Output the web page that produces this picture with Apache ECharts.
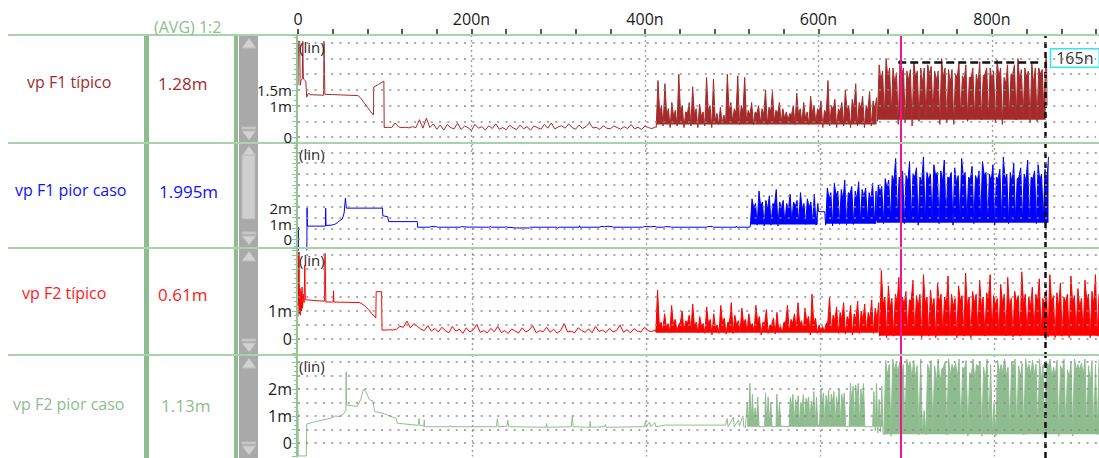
<!DOCTYPE html>
<html><head><meta charset="utf-8">
<script src="https://cdn.jsdelivr.net/npm/echarts@6/dist/echarts.min.js"></script>
<style>html,body{margin:0;padding:0;background:#fff}#c{width:1099px;height:458px}</style>
</head><body><div id="c"></div>
<script>
// ---------- labels ----------
const xTickLabels = ['0', '200n', '400n', '600n', '800n'];
const signalNames = ['vp F1 típico', 'vp F1 pior caso', 'vp F2 típico', 'vp F2 pior caso'];
const avgValues = ['1.28m', '1.995m', '0.61m', '1.13m'];
const headerText = '(AVG) 1:2';
// y tick labels per panel: [panel, values]
const yLabelGroups = [[0, [0, 1.5]], [0, [1]], [1, [2]], [1, [1]], [1, [0]], [2, [0, 1]], [3, [0, 1, 2]]];
const cursorA = 692, cursorB = 858, cursorLevel = 2.39, deltaLabel = '165n';

// ---------- vp F1 típico (t in ns, value in mV) ----------
const f1tStart = [[0,1.65],[0.5,3.05],[2,3.05],[2.5,1.65],[3.5,1.8],[5,1.85],[5.5,3.05],[6.2,1.85],[9,1.78],[10,1.27],[12,1.4],[14,1.35],[29.5,1.33],[30,3.05],[30.6,3.05],[31,1.36],[69,1.32],[72,1.25],[76,1.1],[80,0.95],[84,0.8],[87,0.7],[87.3,1.59],[93,1.68],[99,1.78],[99.4,0.3]];
const f1tLowRange = [100, 412];
const f1tLowVals = [0.30,0.31,0.30,0.45,0.32,0.30,0.31,0.29,0.33,0.30,0.55,0.28,0.60,0.30,0.42,0.25,0.38,0.22,0.40,0.30,0.26,0.44,0.24,0.35,0.30,0.21,0.40,0.28,0.33,0.22,0.36,0.27,0.42,0.25,0.30,0.23,0.37,0.29,0.24,0.38,0.26,0.33,0.22,0.35,0.30,0.25,0.40,0.28,0.45,0.26,0.32,0.36,0.28,0.42,0.30,0.25,0.38,0.27,0.33,0.45,0.29,0.31,0.24,0.36,0.28,0.26,0.35,0.30,0.25,0.33,0.27,0.40,0.26,0.31,0.24,0.35,0.30,0.27,0.32];
const f1tNoiseARange = [413, 667];
const f1tNoiseAVals = [0.3,1.8,0.75,1.0,0.35,1.7,0.7,0.9,0.3,1.1,0.65,0.85,0.35,2.0,0.8,1.0,0.3,0.8,0.75,1.1,0.35,1.6,0.7,0.9,0.3,1.05,0.65,0.8,0.35,1.9,0.8,1.0,0.3,1.85,0.5,0.75,0.4,0.95,0.45,0.7,0.45,2.0,0.8,1.1,0.5,0.9,0.75,1.95,0.4,1.0,0.8,1.9,0.5,0.85,0.7,1.1,0.4,0.8,0.75,1.0,0.45,0.9,0.7,1.5,0.4,0.95,0.8,1.45,0.5,0.85,0.75,1.1,0.45,0.9,0.6,0.8,0.55,0.75,0.7,1.0,0.4,1.4,0.7,0.9,0.45,1.1,0.6,0.8,0.4,1.3,0.75,1.0,0.45,0.9,0.8,1.15,0.3,0.85,0.75,1.8,0.35,1.0,0.85,1.2,0.3,0.9,0.8,1.1,0.35,1.5,0.85,1.0,0.3,1.2,0.9,1.7,0.35,1.1,0.9,1.3,0.3,1.0,0.85,1.45,0.35,1.15,0.9,1.25];
const f1tNoiseBRange = [668, 862];
const f1tNoiseBVals = [0.5,2.3,1.8,2.1,0.6,2.5,1.9,2.2,0.7,2.2,1.7,2.05,0.4,2.45,2.0,2.2,0.45,2.1,1.8,2.15,0.35,2.4,1.9,2.1,0.5,2.2,1.7,2.2,0.6,2.3,2.0,2.25,0.7,2.1,1.8,2.1,0.4,2.5,1.9,2.2,0.45,2.15,1.7,2.15,0.4,2.0,1.9,2.35,0.65,1.95,1.8,2.3,0.5,1.9,1.9,2.2,0.6,2.0,1.7,2.4,0.55,1.95,2.0,2.2,0.6,2.2,1.8,2.1,0.45,2.45,1.9,2.2,0.4,1.9,1.7,2.3,0.6,2.0,2.0,2.3,0.55,2.5,1.8,2.15,0.6,2.2,1.9,2.1,0.45,2.35,1.7,2.2,0.5,2.2,2.0,2.15,0.7,2.5];
const f1tEnd = [[863,2.55],[863.5,1.0]];

// ---------- vp F1 pior caso ----------
const f1wStart = [[0,-0.2],[0.3,0.76],[0.6,-1.5],[10,-1.5],[10.2,-0.2],[10.4,2.0],[10.8,0.84],[31.5,0.84],[31.8,2.0],[32.2,0.88],[38,0.9],[42,0.95],[45,1.05],[48,1.2],[51,1.3],[53,1.7],[54.5,2.65],[55.5,2.0],[97,2.0],[97.5,1.5],[103,1.45],[104,1.13],[137,1.13],[137.5,0.77]];
const f1wFlat = [[151,0.77],[153,0.82],[159,0.8],[160,0.77],[186,0.77],[188,0.81],[193,0.78],[220,0.77],[221,0.83],[222,0.77],[238,0.77],[239,0.82],[240,0.77],[251,0.72],[266,0.72],[267,0.77],[297,0.77],[298,0.7],[300,0.77],[323,0.77],[323.5,0.86],[324,0.77],[346,0.77],[348,0.82],[352,0.8],[356,0.83],[361,0.8],[362,0.77],[396,0.77],[398,0.82],[405,0.8],[411,0.82],[412,0.77],[420,0.77],[422,0.81],[428,0.79],[429,0.77],[469,0.77],[471,0.81],[476,0.82],[477,0.77],[503,0.77],[503.5,0.85],[504,0.77],[519,0.77]];
const f1wNoiseCRange = [519.5, 597];
const f1wNoiseCVals = [0.85,2.6,2.0,2.3,0.9,3.1,2.1,2.4,0.85,2.5,1.9,2.8,0.9,2.3,2.2,3.2,0.85,2.4,2.0,2.5,1.0,2.3,1.9,2.9,1.1,2.4,2.1,2.5,1.0,3.0,1.9,2.3,0.95,2.6,2.0,2.4,1.05,2.9,0.9,2.3];
const f1wGap = [[598,1.77],[605,1.77]];
const f1wNoiseDRange = [606, 664];
const f1wNoiseDVals = [0.9,3.3,2.6,3.0,0.85,3.6,2.8,3.1,0.95,3.2,2.5,3.8,0.9,3.0,2.9,3.4,0.95,3.1,2.6,3.7,1.05,3.2,2.7,3.3,1.1,3.0,2.5,3.6,1.0,3.1];
const f1wNoiseERange = [664.5, 862];
const f1wNoiseEVals = [1.2,3.5,3.0,3.4,1.0,3.9,3.3,3.8,1.2,4.1,3.7,5.2,1.4,4.0,3.9,4.4,1.0,4.1,3.7,5.0,1.2,4.2,4.0,4.6,0.9,4.0,3.6,5.3,1.1,4.3,3.8,4.2,1.2,4.8,4.1,4.3,1.0,4.4,3.7,5.1,1.2,4.0,3.9,4.3,0.9,4.6,3.6,4.1,1.1,5.2,4.0,4.3,1.2,4.0,3.8,4.7,1.0,4.1,3.7,4.4,1.2,5.0,4.1,4.3,1.1,4.2,3.7,4.8,0.9,4.0,3.9,4.5,1.2,5.3,3.8,4.2,1.0,4.3,3.6,4.9,1.2,3.9,4.0,4.6,1.1,4.2,3.7,5.1,1.2,4.0,3.9,4.4,1.0,4.8,3.8,4.2,1.2,4.5,3.6,5.3];

// ---------- vp F2 típico ----------
const f2tStart = [[0,0.8],[0.4,3.1],[0.8,1.2],[1.2,3.1],[1.6,0.9],[2.2,1.8],[2.8,0.85],[3.4,1.7],[4,1.0],[4.6,1.85],[5.2,1.1],[6,1.6],[7,1.3],[7.8,2.64],[8.4,1.4],[30.5,1.35],[31,3.06],[31.5,3.06],[32,1.32],[40.5,1.32],[40.8,1.72],[41.2,1.32],[71,1.3],[76,1.2],[81,1.05],[85,0.9],[89.4,0.75],[89.8,1.69],[96,1.69],[96.5,0.32]];
const f2tLowRange = [97, 410];
const f2tLowVals = [0.32,0.32,0.33,0.32,0.35,0.45,0.42,0.64,0.40,0.55,0.45,0.35,0.30,0.48,0.28,0.38,0.25,0.42,0.30,0.22,0.45,0.28,0.35,0.20,0.40,0.25,0.33,0.52,0.24,0.30,0.22,0.38,0.26,0.45,0.23,0.30,0.20,0.36,0.28,0.22,0.40,0.25,0.32,0.48,0.22,0.30,0.26,0.42,0.24,0.35,0.21,0.30,0.55,0.25,0.28,0.22,0.40,0.30,0.24,0.36,0.22,0.45,0.27,0.32,0.23,0.38,0.26,0.30,0.50,0.24,0.33,0.22,0.37,0.28,0.25,0.42,0.30,0.26,0.32];
const f2tNoiseFRange = [411, 667];
const f2tNoiseFVals = [0.25,1.75,0.45,0.6,0.3,0.9,0.4,0.55,0.25,1.2,0.5,0.7,0.3,0.5,0.6,1.0,0.25,0.65,0.55,0.85,0.3,1.25,0.45,0.6,0.22,0.8,0.45,0.55,0.2,1.15,0.5,0.7,0.15,0.9,0.4,0.5,0.2,1.2,0.55,0.75,0.18,0.6,0.6,1.3,0.2,0.85,0.5,0.65,0.25,1.1,0.55,0.7,0.3,0.9,0.45,0.55,0.25,1.2,0.6,0.8,0.15,0.6,0.55,1.05,0.2,0.5,0.5,0.75,0.18,0.95,0.35,0.45,0.22,0.6,0.6,1.2,0.25,0.7,0.55,0.9,0.3,1.3,0.5,0.65,0.25,1.1,0.6,0.8,0.15,1.6,0.55,0.75,0.2,0.5,0.3,0.45,0.25,0.55,0.6,1.5,0.25,0.85,0.65,1.15,0.2,0.95,0.7,1.3,0.18,0.8,0.65,1.2,0.15,0.9,0.7,1.35,0.2,1.0,0.65,1.25,0.25,0.95,0.7,1.4,0.2,1.1,0.7,1.3];
const f2tNoiseGRange = [668, 920];
const f2tNoiseGVals = [0.1,2.45,1.2,1.5,0.05,1.9,1.1,1.45,0.1,1.6,1.3,2.2,0.05,1.5,1.2,1.7,0.2,1.4,1.35,2.1,0.15,1.55,1.15,1.6,0.05,2.3,1.25,1.5,0.1,1.75,1.1,1.45,0.05,2.0,1.3,1.6,0.2,1.5,1.2,2.25,0.15,1.6,1.15,1.45,0.05,1.9,1.35,1.55,0.1,2.35,1.1,1.5,0.05,1.7,1.25,1.6,0.15,2.1,1.1,1.5,0.1,1.65,1.4,2.3,0.18,1.55,1.2,1.45,0.15,1.95,1.25,1.6,0.12,2.2,1.1,1.45,0.08,1.7,1.3,1.55,0.1,2.4,1.2,1.6,0.15,1.5,1.1,1.85,0.2,1.6,1.35,2.15,0.12,1.45,1.2,1.75,0.08,2.3,1.25,1.55,0.05,1.65,1.1,2.0,0.1,1.5,1.3,1.6,0.05,2.25,1.25,1.55,0.2,1.8,1.1,1.45,0.15,2.1,1.4,1.6,0.05,1.7,1.2,2.3,0.1,1.6];

// ---------- vp F2 pior caso ----------
const f2wStart = [[0,1.2],[0.3,-0.48],[9.5,-0.48],[10,0.7],[20,0.79],[37,0.91],[43,1.0],[48,0.97],[53,1.1],[55,1.2],[55.3,2.63],[55.8,1.4],[68,1.35],[72,1.6],[75,1.98],[78,1.9],[82,1.6],[86,1.55],[88,1.16],[98,1.09],[105,1.0],[113,0.9],[114,0.73],[138,0.65],[139,0.9],[140,0.65],[144.5,0.62],[145,0.85],[145.5,0.6],[174,0.6],[175,0.65],[176,0.6],[228,0.6],[229,0.9],[230,0.6],[240,0.62],[241,0.85],[242,0.6],[285,0.58],[285.5,0.72],[286,0.58],[314,0.6],[315,0.97],[316,0.6],[335,0.58],[335.5,0.8],[336,0.58],[352,0.6],[353,0.68],[354,0.58],[398,0.6],[399,0.8],[400,0.6],[404,0.78],[405,0.6],[410,0.75],[411,0.6],[422,0.66],[491,0.66],[493,0.9],[494,0.6],[500,0.95],[501,0.6],[506,0.85],[507,0.62],[511,1.0],[512,0.6],[514,0.58]];
const f2wBursts = [[516,1.5],[517.5,0.6],[519,2.2],[520.5,0.7],[522,1.8],[523.5,0.6],[525,1.3],[526.5,0.62],[528,1.7],[529.5,0.6],[536,0.6],[537,1.85],[538.5,0.6],[540,1.7],[541.5,0.65],[543,1.5],[544.5,0.6],[549,0.6],[550,1.8],[551.5,0.6],[553,1.5],[554.5,0.62],[564,0.6],[565.5,1.7],[567,1.3],[568.5,1.8],[570,0.65],[571.5,1.6],[573,1.2],[574.5,1.75],[576,0.6],[577.5,1.5],[579,1.3],[580.5,1.8],[582,0.6],[583.5,1.65],[585,1.4],[586.5,1.7],[588,0.62],[589.5,1.55],[591,1.2],[592.5,1.9],[594,0.6],[595.5,1.7],[597,0.7],[599,0.62],[600.5,2.0],[602,1.4],[603.5,1.85],[605,0.6],[606.5,1.75],[608,1.3],[609.5,1.95],[611,0.6],[612.5,1.8],[614,1.5],[615.5,1.9],[617,0.62],[618.5,1.7],[620,1.3],[621.5,2.0],[623,0.6],[624.5,1.8],[626,1.4],[627.5,1.85],[629,0.6],[633,0.6],[634.5,2.2],[636,1.5],[637.5,2.1],[639,0.62],[640.5,2.15],[642,1.6],[643.5,2.2],[645,0.65],[646.5,2.0],[648,1.4],[649.5,2.2],[651,0.6],[660,0.6],[661.5,1.9],[663,0.45],[664.5,2.2],[666,0.37],[667.5,1.6],[669,0.4],[670.5,2.1],[672,0.35]];
const f2wNoiseIRange = [673, 920];
const f2wNoiseIVals = [0.3,3.05,2.5,2.9,0.25,3.1,2.7,2.95,2.6,3.0,2.3,2.9,0.35,3.1,2.8,3.0,2.4,3.05,2.4,2.85,0.3,3.1,0.35,1.2,0.3,2.9,2.6,3.05,0.4,2.85,2.2,3.1,2.2,2.7,2.8,3.0,0.3,3.1,2.5,2.9,2.7,2.95,2.4,3.1,0.35,2.8,2.7,3.05,0.25,2.6,2.5,3.1,2.3,2.9,2.8,3.0,0.25,2.8,2.3,3.1,0.4,2.9,0.3,1.5,0.25,3.05,2.6,2.9,2.6,3.1,2.5,2.8,0.4,3.0,2.8,3.1,0.35,2.85,2.4,2.95,0.3,3.1,2.7,2.9,2.5,3.05,2.5,2.9,0.35,3.1,2.3,2.9,0.25,3.0,2.8,3.1,2.4,2.8,2.5,3.05,0.25,2.85,2.6,3.1,0.4,2.7,2.4,3.0,0.25,3.1,2.7,2.9,2.7,2.95,2.5,3.1,0.4,2.85,2.2,3.05,0.35,2.9,0.3,3.1];

// ---------- assemble ----------
function seg(range, vals) {
  const n = vals.length;
  return vals.map((v, i) => [range[0] + (range[1] - range[0]) * i / (n - 1), v]);
}
const sF1tA = seg(f1tNoiseARange, f1tNoiseAVals), sF1tB = seg(f1tNoiseBRange, f1tNoiseBVals);
const sF1wC = seg(f1wNoiseCRange, f1wNoiseCVals), sF1wD = seg(f1wNoiseDRange, f1wNoiseDVals), sF1wE = seg(f1wNoiseERange, f1wNoiseEVals);
const sF2tF = seg(f2tNoiseFRange, f2tNoiseFVals), sF2tG = seg(f2tNoiseGRange, f2tNoiseGVals);
const sF2wI = seg(f2wNoiseIRange, f2wNoiseIVals);
const dataF1t = [].concat(f1tStart, seg(f1tLowRange, f1tLowVals), sF1tA, sF1tB, f1tEnd);
const dataF1w = [].concat(f1wStart, f1wFlat, sF1wC, f1wGap, sF1wD, sF1wE);
const dataF2t = [].concat(f2tStart, seg(f2tLowRange, f2tLowVals), sF2tF, sF2tG);
const dataF2w = [].concat(f2wStart, f2wBursts, sF2wI);

const colors = ['#a52a2a', '#0000ff', '#ff0000', '#8fbc8f'];
const nameColors = ['#a52a2a', '#1010ff', '#ff1a1a', '#8fbc8f'];
const FONT = 'Open Sans';

// panel geometry (pixels)
const PL = 298, PW = 803;
const panels = [
  {top: 35, height: 117.7, min: -0.5, max: 3.25, interval: 0.5},
  {top: 143, height: 107, min: -0.7, max: 6.2, interval: 0.7},
  {top: 248, height: 105, min: -0.5, max: 3.25, interval: 0.5},
  {top: 355, height: 101.5, min: -0.5, max: 3.25, interval: 0.5}
];
const sepY = [35, 143, 248, 355];
// label styling per group (nudges keep tightly packed labels apart)
const groupStyle = [
  {size: 15, pad: [0, 0, 4, 0]}, {size: 15, pad: [8, 0, 0, 0]},
  {size: 15, pad: [0, 0, 4, 0]}, {size: 15, pad: [0, 0, 0, 0]}, {size: 15, pad: [4, 0, 0, 0]},
  {size: 16, pad: [0, 0, 0, 0]}, {size: 16, pad: [0, 0, 0, 0]}
];

const grids = panels.map(p => ({left: PL, width: PW, top: p.top, height: p.height}));
grids.push({left: PL, width: PW, top: 35, height: 423});

const gridGreen = '#93c493';
const xAxes = panels.map((p, i) => ({
  gridIndex: i, type: 'value', min: 0, max: 920, interval: 200,
  axisLine: {show: false, onZero: false}, axisTick: {show: false}, axisLabel: {show: false},
  splitLine: {show: true, showMinLine: false, showMaxLine: false,
    lineStyle: {color: '#a0a0a0', width: 1.4, type: [2, 3]}}
}));
xAxes.push({
  gridIndex: 0, type: 'value', position: 'top', min: 0, max: 920, interval: 40,
  axisLine: {show: false, onZero: false},
  axisTick: {show: true, inside: false, length: 6, lineStyle: {color: '#222', width: 1.5}},
  axisLabel: {show: true, margin: 8, fontSize: 16, color: '#1a1a1a', fontFamily: FONT,
    formatter: v => (v % 200 === 0 ? xTickLabels[v / 200] : '')},
  splitLine: {show: false}
});
xAxes.push({gridIndex: 4, type: 'value', min: 0, max: 920, show: false, axisLine: {onZero: false}});

const yFmt = v => (Math.abs(v) < 1e-9 ? '0' : (+v.toFixed(2)) + 'm');
const yAxes = panels.map((p, i) => ({
  gridIndex: i, type: 'value', min: p.min, max: p.max, interval: p.interval, offset: 1, z: 50,
  axisLine: {show: true, onZero: false, lineStyle: {color: gridGreen, width: 2}},
  axisTick: {show: true, length: 5, lineStyle: {color: gridGreen, width: 1}},
  minorTick: {show: true, splitNumber: 3, length: 3, lineStyle: {color: gridGreen, width: 1}},
  axisLabel: {show: false},
  splitLine: {show: true, showMinLine: false, showMaxLine: false,
    lineStyle: {color: '#8a8a8a', width: 1.5, type: [2, 6.3]}}
}));
yAxes.push({gridIndex: 4, type: 'value', min: 0, max: 1, show: false, axisLine: {onZero: false}});
yLabelGroups.forEach(([g, vals], k) => {
  const p = panels[g], st = groupStyle[k];
  yAxes.push({gridIndex: g, type: 'value', position: 'left', min: p.min, max: p.max, interval: p.interval, offset: 1, z: 51,
    axisLine: {show: false, onZero: false}, axisTick: {show: false}, splitLine: {show: false},
    axisLabel: {show: true, customValues: vals, margin: 5, fontSize: st.size, padding: st.pad,
      color: '#1a1a1a', fontFamily: FONT, formatter: yFmt}});
});

const datas = [dataF1t, dataF1w, dataF2t, dataF2w];
const series = datas.map((d, i) => ({
  type: 'line', xAxisIndex: i, yAxisIndex: i, data: d, showSymbol: false, symbol: 'none',
  lineStyle: {color: colors[i], width: 1}, itemStyle: {color: colors[i]}, animation: false, clip: true, z: 3
}));
// dense noise bands: filled between the trace and its floor level
const bands = [
  [0, sF1tA, 0.4], [0, sF1tB, 0.55],
  [1, sF1wC, 0.95], [1, sF1wD, 1.0], [1, sF1wE, 1.05],
  [2, sF2tF, 0.22], [2, sF2tG, 0.12],
  [3, f2wBursts, 0.6], [3, sF2wI, 0.32]
];
bands.forEach(([g, d, floor]) => series.push({
  type: 'line', xAxisIndex: g, yAxisIndex: g, data: d, showSymbol: false, symbol: 'none',
  lineStyle: {width: 0, color: colors[g]}, itemStyle: {color: colors[g]},
  areaStyle: {origin: floor, color: colors[g], opacity: 1}, animation: false, clip: true, z: 2
}));
// horizontal cursor measurement in the first panel
series[0].markLine = {
  silent: true, symbol: ['none', 'none'], animation: false,
  lineStyle: {color: '#111', width: 2.5, type: [8, 4]},
  label: {show: true, position: 'end', formatter: deltaLabel, distance: 9, offset: [0, -4],
    color: '#333', fontSize: 16, fontFamily: FONT, backgroundColor: '#fff',
    borderColor: '#33e6ee', borderWidth: 1.5, padding: [1, 5, 0, 5]},
  data: [[{coord: [cursorA, cursorLevel]}, {coord: [cursorB, cursorLevel]}]]
};
// full-height cursors
series.push({
  type: 'line', xAxisIndex: 5, yAxisIndex: 4, data: [], z: 100, animation: false,
  markLine: {
    silent: true, symbol: ['none', 'none'], animation: false, label: {show: false},
    data: [
      {xAxis: cursorA, lineStyle: {color: '#f0168c', width: 2, type: 'solid'}},
      {xAxis: cursorB, lineStyle: {color: '#111', width: 2.5, type: [6, 4]}}
    ]
  }
});

// ---------- chrome (left columns, separators, scrollbar) ----------
const graphic = [];
graphic.push({type: 'rect', shape: {x: 239, y: 35, width: 19, height: 423}, style: {fill: '#a9a9a9'}, z: 40});
graphic.push({type: 'rect', shape: {x: 144, y: 35, width: 5, height: 423}, style: {fill: '#8fbc8f'}, z: 41});
graphic.push({type: 'rect', shape: {x: 234, y: 35, width: 4, height: 423}, style: {fill: '#8fbc8f'}, z: 41});
sepY.forEach(y => graphic.push({type: 'line', shape: {x1: 8, y1: y, x2: 1099, y2: y},
  style: {stroke: '#a9d3a9', lineWidth: 2}, z: 42}));
const panelBounds = [[35, 143], [143, 248], [248, 355], [355, 458]];
panelBounds.forEach(([t, b]) => {
  graphic.push({type: 'polygon', shape: {points: [[242, t + 13], [249, t + 3], [256, t + 13]]},
    style: {fill: '#d2d2d2', stroke: '#bcbcbc', lineWidth: 1}, z: 43});
  graphic.push({type: 'rect', shape: {x: 242, y: b - 16, width: 14, height: 2},
    style: {fill: '#d2d2d2', stroke: '#bcbcbc', lineWidth: 1}, z: 43});
  graphic.push({type: 'polygon', shape: {points: [[242, b - 12], [256, b - 12], [249, b - 3]]},
    style: {fill: '#d2d2d2', stroke: '#bcbcbc', lineWidth: 1}, z: 43});
});
graphic.push({type: 'rect', shape: {x: 242, y: 155, width: 13, height: 64, r: 1},
  style: {fill: '#cfcfcf', stroke: '#b8b8b8', lineWidth: 1}, z: 43});

const nameX = [27, 15, 22, 13];
const nameY = [82, 190, 293, 404];
const valX = [158, 159, 158, 161];
signalNames.forEach((s, i) => {
  graphic.push({type: 'text', x: nameX[i], y: nameY[i], z: 44,
    style: {text: s, fill: nameColors[i], font: '16px "' + FONT + '"', verticalAlign: 'middle'}});
  graphic.push({type: 'text', x: valX[i], y: nameY[i] + 1, z: 44,
    style: {text: avgValues[i], fill: nameColors[i], font: '17px "' + FONT + '"', verticalAlign: 'middle'}});
});
graphic.push({type: 'text', x: 154, y: 27, z: 44,
  style: {text: headerText, fill: '#8fbc8f', font: '16px "' + FONT + '"', verticalAlign: 'middle'}});
const linY = [47, 154, 260, 366];
linY.forEach(y => graphic.push({type: 'text', x: 299, y: y, z: 44,
  style: {text: '(lin)', fill: '#2a2a2a', font: '15px "' + FONT + '"', verticalAlign: 'middle'}}));

const chart = echarts.init(document.getElementById('c'), null, {renderer: 'svg'});
chart.setOption({
  animation: false,
  backgroundColor: '#fff',
  grid: grids,
  xAxis: xAxes,
  yAxis: yAxes,
  series: series,
  graphic: graphic
});
</script>
</body></html>
